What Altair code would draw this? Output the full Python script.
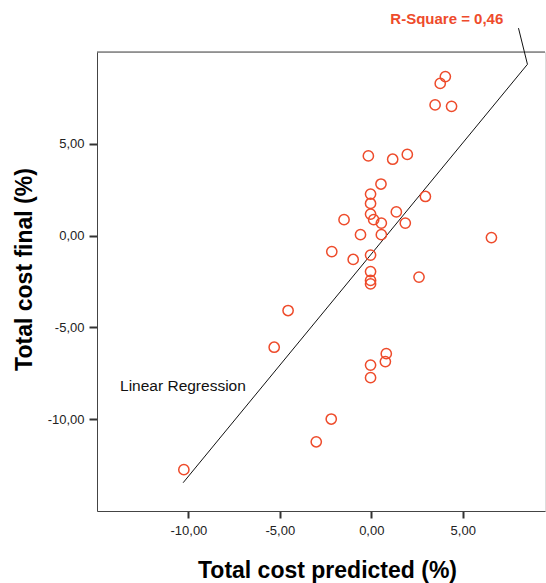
import altair as alt
import pandas as pd

# Data (Total cost predicted vs final, %)
predicted = [4.05, 3.77, 3.49, 4.39, -0.16, 1.17, 1.97, 0.53, -0.04, -0.04,
             2.96, -1.49, -0.04, 0.13, 0.55, 1.37, 1.86, -0.59, 0.55, 6.57,
             -2.16, -0.99, -0.04, -0.04, -0.04, -0.04, 2.61, 0.82, 0.77, -0.04,
             -0.04, -4.55, -5.31, -2.19, -3.01, -10.25]
final = [8.66, 8.29, 7.12, 7.04, 4.34, 4.16, 4.42, 2.81, 2.26, 1.75,
         2.13, 0.87, 1.17, 0.87, 0.68, 1.29, 0.68, 0.05, 0.05, -0.11,
         -0.87, -1.30, -1.06, -1.96, -2.44, -2.63, -2.26, -6.43, -6.86, -7.05,
         -7.74, -4.08, -6.08, -9.99, -11.23, -12.75]

fit_x = [-10.29, 8.54]
fit_y = [-13.46, 9.33]
leader_x = [8.54, 8.05]
leader_y = [9.33, 11.30]

x_ticks = [-10, -5, 0, 5]
y_ticks = [-10, -5, 0, 5]
x_domain = [-15, 9.5]
y_domain = [-15, 10]

r2_label = "R-Square = 0,46"
fit_label = "Linear Regression"

RED = "#EE4B2B"
FONT = "Arial, Liberation Sans, sans-serif"

pts = pd.DataFrame({"x": predicted, "y": final})
fit = pd.DataFrame({"x": fit_x, "y": fit_y})
leader = pd.DataFrame({"x": leader_x, "y": leader_y})

label_expr = "(datum.value < 0 ? '-' : '') + replace(format(abs(datum.value), '.2f'), '.', ',')"

xscale = alt.Scale(domain=x_domain, nice=False, zero=False)
yscale = alt.Scale(domain=y_domain, nice=False, zero=False)

xaxis = alt.Axis(values=x_ticks, labelExpr=label_expr, grid=False,
                 title="Total cost predicted  (%)", titleFont=FONT, titleFontSize=23,
                 titleFontWeight="bold", titleColor="#000", titleX=230, titleY=66,
                 titleBaseline="alphabetic",
                 labelFont=FONT, labelFontSize=13, labelColor="#222", labelPadding=6,
                 tickSize=7, tickWidth=2, tickColor="#333",
                 domainColor="#444", domainWidth=1)
yaxis = alt.Axis(values=y_ticks, labelExpr=label_expr, grid=False,
                 title="Total cost final (%)", titleFont=FONT, titleFontSize=23,
                 titleFontWeight="bold", titleColor="#000", titleX=-73, titleY=217,
                 titleBaseline="middle", titleAngle=-90,
                 labelFont=FONT, labelFontSize=13, labelColor="#222", labelPadding=5,
                 tickSize=8, tickWidth=2, tickColor="#333",
                 domainColor="#444", domainWidth=1)

points = alt.Chart(pts).mark_point(shape="circle", filled=False, color=RED,
                                   size=105, strokeWidth=1.5, opacity=1).encode(
    x=alt.X("x:Q", scale=xscale, axis=xaxis),
    y=alt.Y("y:Q", scale=yscale, axis=yaxis),
)

line = alt.Chart(fit).mark_line(color="#111", strokeWidth=1).encode(x="x:Q", y="y:Q")
lead = alt.Chart(leader).mark_line(color="#111", strokeWidth=1).encode(x="x:Q", y="y:Q")

top = alt.Chart(pd.DataFrame({"a": [0]})).mark_rule(color="#444", strokeWidth=1).encode(
    x=alt.datum(x_domain[0]), x2=alt.datum(x_domain[1]), y=alt.datum(y_domain[1]))

r2 = alt.Chart(pd.DataFrame({"t": [r2_label]})).mark_text(
    align="right", baseline="middle", font=FONT, fontSize=15, fontWeight="bold",
    color=RED).encode(x=alt.datum(7.22), y=alt.datum(11.79), text="t:N")

lr = alt.Chart(pd.DataFrame({"t": [fit_label]})).mark_text(
    align="left", baseline="middle", font=FONT, fontSize=15.5, color="#111").encode(
    x=alt.datum(-13.74), y=alt.datum(-8.21), text="t:N")

chart = alt.layer(top, line, lead, points, r2, lr).properties(
    width=448, height=459,
    autosize=alt.AutoSizeParams(type="none"),
    padding={"left": 97, "top": 52, "right": 1, "bottom": 72},
).configure_view(stroke=None).configure(background="white")

chart.save("out.html", embed_options={"renderer": "svg", "actions": False})
